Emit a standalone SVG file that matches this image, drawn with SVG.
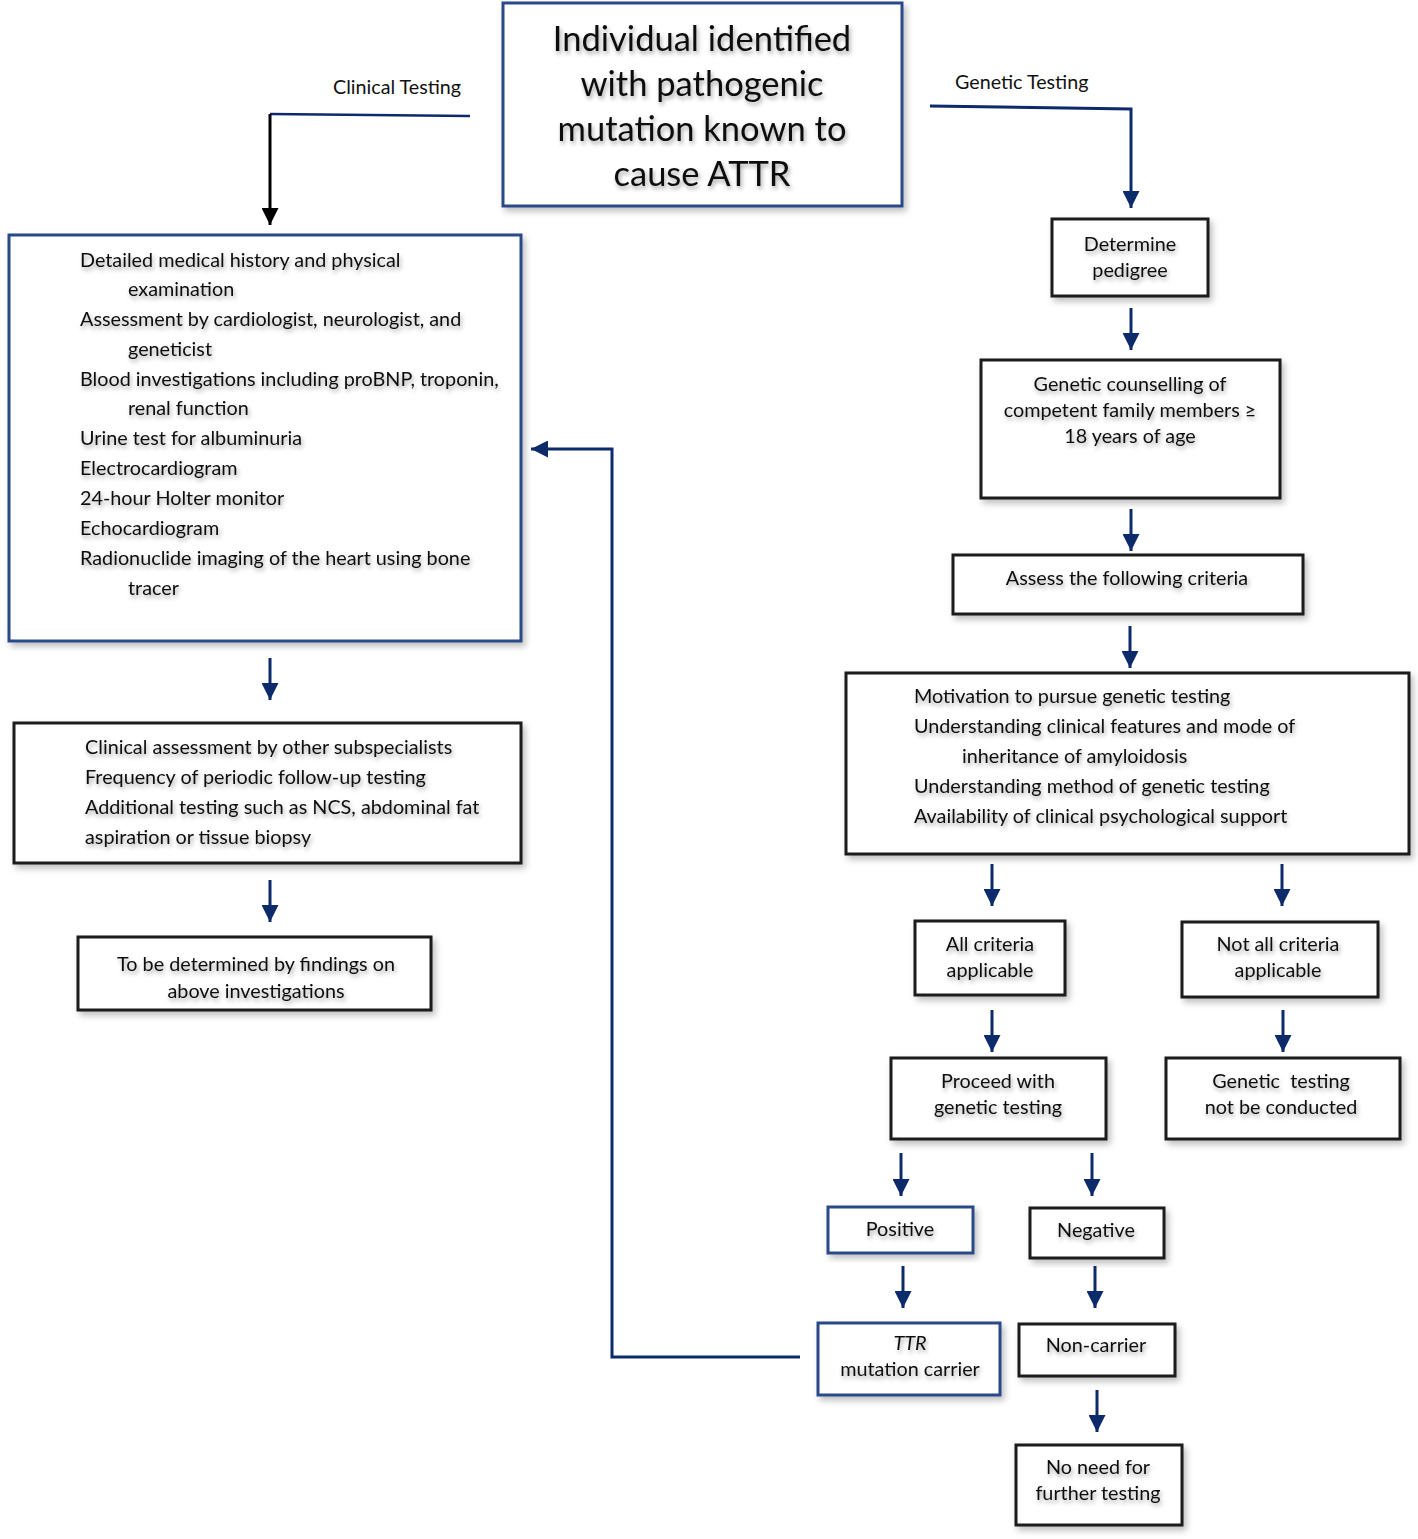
<svg xmlns="http://www.w3.org/2000/svg" width="1418" height="1539" viewBox="0 0 1418 1539">
<defs>
<filter id="sh" x="-10%" y="-10%" width="130%" height="130%"><feDropShadow dx="3" dy="4" stdDeviation="3" flood-color="#000" flood-opacity="0.25"/></filter>
<filter id="tsh" x="-5%" y="-30%" width="110%" height="180%"><feDropShadow dx="1.5" dy="3" stdDeviation="2" flood-color="#000" flood-opacity="0.35"/></filter>
<marker id="ah" markerUnits="userSpaceOnUse" markerWidth="17" markerHeight="17" refX="17" refY="8.5" orient="auto"><path d="M0,0 L17,8.5 L0,17 z" fill="#0d2a6b"/></marker>
<marker id="ahk" markerUnits="userSpaceOnUse" markerWidth="17" markerHeight="17" refX="17" refY="8.5" orient="auto"><path d="M0,0 L17,8.5 L0,17 z" fill="#000"/></marker>
<style>
.bb{fill:#fff;stroke:#2c4888;stroke-width:3;filter:url(#sh)}
.kb{fill:#fff;stroke:#1a1a1a;stroke-width:3;filter:url(#sh)}
text{font-family:Lato,"Liberation Sans",sans-serif;fill:#111;font-size:19.8px;filter:url(#tsh)}
.c{text-anchor:middle}
.t{font-size:34.5px}
.lab{font-size:19.7px;filter:none}
.ar{stroke:#0d2a6b;stroke-width:3;fill:none;marker-end:url(#ah)}
.ln{stroke:#0d2a6b;stroke-width:2.5;fill:none}
</style>
</defs>
<g id="connectors">
<path class="ln" d="M470,116 L270,114"/>
<path d="M270,114 L270,225" stroke="#000" stroke-width="3" fill="none" marker-end="url(#ahk)"/>
<path class="ar" d="M930,106 L1131,109 L1131,208"/>
<path class="ar" d="M270,658 L270,700"/>
<path class="ar" d="M270,880 L270,922"/>
<path class="ar" d="M1131,308 L1131,350"/>
<path class="ar" d="M1131,509 L1131,551"/>
<path class="ar" d="M1130,626 L1130,668"/>
<path class="ar" d="M992,864 L992,906"/>
<path class="ar" d="M1282,864 L1282,906"/>
<path class="ar" d="M992,1010 L992,1052"/>
<path class="ar" d="M1283,1010 L1283,1052"/>
<path class="ar" d="M901,1153 L901,1196"/>
<path class="ar" d="M1092,1153 L1092,1196"/>
<path class="ar" d="M903,1266 L903,1308"/>
<path class="ar" d="M1095,1266 L1095,1308"/>
<path class="ar" d="M1097,1390 L1097,1432"/>
<path class="ar" d="M800,1357 L612,1357 L612,449 L531,449"/>
</g>
<g id="labels">
<text class="lab" x="333" y="94">Clinical Testing</text>
<text class="lab" x="955" y="89">Genetic Testing</text>
</g>
<g id="start">
<rect class="bb" x="503" y="3" width="399" height="203"/>
<text class="c t" x="702" y="51">Individual identified</text>
<text class="c t" x="702" y="96">with pathogenic</text>
<text class="c t" x="702" y="141">mutation known to</text>
<text class="c t" x="702" y="186">cause ATTR</text>
</g>
<g id="clinical">
<rect class="bb" x="9" y="235" width="512" height="406"/>
<text x="80" y="267">Detailed medical history and physical</text>
<text x="128" y="296">examination</text>
<text x="80" y="326">Assessment by cardiologist, neurologist, and</text>
<text x="128" y="356">geneticist</text>
<text x="80" y="386">Blood investigations including proBNP, troponin,</text>
<text x="128" y="415">renal function</text>
<text x="80" y="445">Urine test for albuminuria</text>
<text x="80" y="475">Electrocardiogram</text>
<text x="80" y="505">24-hour Holter monitor</text>
<text x="80" y="535">Echocardiogram</text>
<text x="80" y="565">Radionuclide imaging of the heart using bone</text>
<text x="128" y="595">tracer</text>
</g>
<g id="subspecialists">
<rect class="kb" x="14" y="723" width="507" height="140"/>
<text x="85" y="754">Clinical assessment by other subspecialists</text>
<text x="85" y="784">Frequency of periodic follow-up testing</text>
<text x="85" y="814">Additional testing such as NCS, abdominal fat</text>
<text x="85" y="844">aspiration or tissue biopsy</text>
</g>
<g id="tbd">
<rect class="kb" x="78" y="937" width="353" height="73"/>
<text class="c" x="256" y="971">To be determined by findings on</text>
<text class="c" x="256" y="998">above investigations</text>
</g>
<g id="pedigree">
<rect class="kb" x="1052" y="219" width="156" height="77"/>
<text class="c" x="1130" y="251">Determine</text>
<text class="c" x="1130" y="277">pedigree</text>
</g>
<g id="counselling">
<rect class="kb" x="981" y="360" width="299" height="138"/>
<text class="c" x="1130" y="391">Genetic counselling of</text>
<text class="c" x="1130" y="417">competent family members ≥</text>
<text class="c" x="1130" y="443">18 years of age</text>
</g>
<g id="assess">
<rect class="kb" x="953" y="555" width="350" height="59"/>
<text class="c" x="1127" y="585">Assess the following criteria</text>
</g>
<g id="criteria">
<rect class="kb" x="846" y="673" width="563" height="181"/>
<text x="914" y="703">Motivation to pursue genetic testing</text>
<text x="914" y="733">Understanding clinical features and mode of</text>
<text x="962" y="763">inheritance of amyloidosis</text>
<text x="914" y="793">Understanding method of genetic testing</text>
<text x="914" y="823">Availability of clinical psychological support</text>
</g>
<g id="all">
<rect class="kb" x="915" y="921" width="150" height="74"/>
<text class="c" x="990" y="951">All criteria</text>
<text class="c" x="990" y="977">applicable</text>
</g>
<g id="notall">
<rect class="kb" x="1182" y="922" width="196" height="75"/>
<text class="c" x="1278" y="951">Not all criteria</text>
<text class="c" x="1278" y="977">applicable</text>
</g>
<g id="proceed">
<rect class="kb" x="891" y="1058" width="215" height="81"/>
<text class="c" x="998" y="1088">Proceed with</text>
<text class="c" x="998" y="1114">genetic testing</text>
</g>
<g id="notconducted">
<rect class="kb" x="1166" y="1058" width="234" height="81"/>
<text class="c" x="1281" y="1088" xml:space="preserve">Genetic  testing</text>
<text class="c" x="1281" y="1114">not be conducted</text>
</g>
<g id="positive">
<rect class="bb" x="828" y="1207" width="145" height="46"/>
<text class="c" x="900" y="1236">Positive</text>
</g>
<g id="negative">
<rect class="kb" x="1030" y="1208" width="134" height="50"/>
<text class="c" x="1096" y="1237">Negative</text>
</g>
<g id="carrier">
<rect class="bb" x="818" y="1323" width="182" height="72"/>
<text class="c" x="910" y="1350" font-style="italic">TTR</text>
<text class="c" x="910" y="1376">mutation carrier</text>
</g>
<g id="noncarrier">
<rect class="kb" x="1019" y="1324" width="156" height="52"/>
<text class="c" x="1096" y="1352">Non-carrier</text>
</g>
<g id="noneed">
<rect class="kb" x="1016" y="1445" width="166" height="80"/>
<text class="c" x="1098" y="1474">No need for</text>
<text class="c" x="1098" y="1500">further testing</text>
</g>
</svg>
